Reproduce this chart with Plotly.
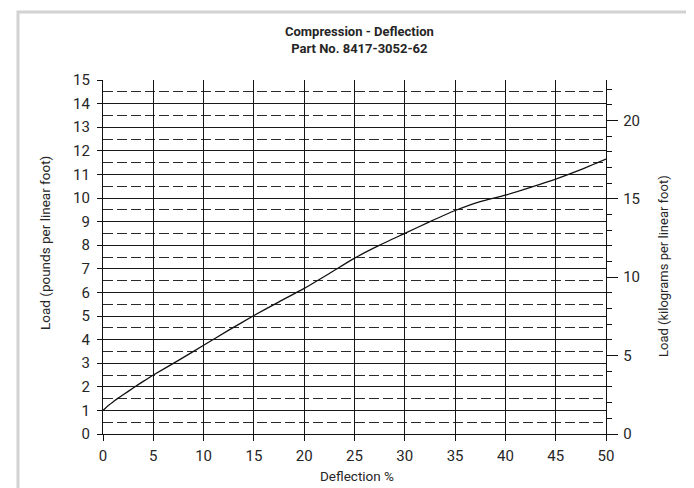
import plotly.graph_objects as go

deflection = [0, 0.5, 1, 1.5, 2, 3, 4, 5, 7.5, 10, 12.5, 15, 17.5, 20, 22.5, 25, 27.5, 30,
              32.5, 35, 37.5, 40, 42.5, 45, 47.5, 50]
load_lb = [1.0, 1.2, 1.36, 1.52, 1.66, 1.95, 2.23, 2.5, 3.12, 3.76, 4.4, 5.02, 5.6, 6.17, 6.8,
           7.45, 8.0, 8.5, 9.0, 9.47, 9.85, 10.12, 10.45, 10.8, 11.2, 11.65]
KG_PER_LB = 1.505
title_lines = ["Compression - Deflection", "Part No. 8417-3052-62"]
x_title = "Deflection %"
y_title = "Load (pounds per linear foot)"
y2_title = "Load (kilograms per linear foot)"

FONT = "Roboto, DejaVu Sans, sans-serif"
TXT = "#262626"
W, H = 694, 488
ML, MR, MT, MB = 95, 96, 72, 62
pw, ph = W - ML - MR, H - MT - MB


def px_x(px):
    return (px - ML) / pw


def px_y(py):
    return (H - MB - py) / ph


fig = go.Figure()
fig.add_trace(go.Scatter(x=deflection, y=load_lb, mode="lines",
                         line=dict(color="#111", width=1.3, shape="spline", smoothing=0.5),
                         showlegend=False))
fig.add_trace(go.Scatter(x=[0], y=[0], yaxis="y2", mode="markers",
                         marker=dict(opacity=0), showlegend=False, hoverinfo="skip"))

tickfont = dict(size=15, family=FONT, color=TXT)

fig.update_layout(
    width=W, height=H,
    margin=dict(l=ML, r=MR, t=MT, b=MB),
    paper_bgcolor="white", plot_bgcolor="white",
    font=dict(family=FONT, color=TXT, size=14),
    xaxis=dict(range=[0, 50], dtick=5, tick0=0, showgrid=True, gridcolor="#151515", gridwidth=1.3,
               zeroline=False, showline=True, linecolor="#111", linewidth=1.3,
               ticks="outside", ticklen=6, tickcolor="#111", tickfont=tickfont,
               ticklabelstandoff=2),
    yaxis=dict(range=[0, 15], dtick=1, tick0=0, showgrid=True, gridcolor="#1a1a1a", gridwidth=1.3,
               zeroline=False, showline=True, linecolor="#111", linewidth=1.3,
               ticks="outside", ticklen=5, tickcolor="#111", tickfont=tickfont,
               ticklabelstandoff=4,
               minor=dict(dtick=0.5, tick0=0, showgrid=True, gridcolor="#2a2a2a", gridwidth=1.2,
                          griddash="10px,4px", ticks="")),
    yaxis2=dict(range=[0, 15 * KG_PER_LB], overlaying="y", side="right", dtick=5, tick0=0,
                showgrid=False, zeroline=False, showline=True, linecolor="#111", linewidth=1.3,
                ticks="outside", ticklen=11, tickcolor="#111", tickfont=tickfont,
                ticklabelstandoff=2,
                minor=dict(dtick=1, tick0=0, ticks="outside", ticklen=5, tickcolor="#111",
                           showgrid=False)),
    shapes=[dict(type="rect", xref="paper", yref="paper",
                 x0=px_x(10), x1=px_x(688), y0=px_y(500), y1=px_y(4),
                 line=dict(color="#d2d2d2", width=3), fillcolor="rgba(0,0,0,0)", layer="below")],
    annotations=[
        dict(text="<b>" + title_lines[0] + "</b><br><b>" + title_lines[1] + "</b>",
             xref="paper", yref="paper", x=px_x(351), y=px_y(32), xanchor="center",
             yanchor="middle", showarrow=False,
             font=dict(size=13, family=FONT, color=TXT)),
        dict(text=x_title, xref="paper", yref="paper", x=px_x(349), y=px_y(468),
             xanchor="center", yanchor="middle", showarrow=False,
             font=dict(size=13.5, family=FONT, color=TXT)),
        dict(text=y_title, xref="paper", yref="paper", x=px_x(37), y=px_y(235),
             xanchor="center", yanchor="middle", showarrow=False, textangle=-90,
             font=dict(size=13.5, family=FONT, color=TXT)),
        dict(text=y2_title, xref="paper", yref="paper", x=px_x(655), y=px_y(258),
             xanchor="center", yanchor="middle", showarrow=False, textangle=-90,
             font=dict(size=13, family=FONT, color=TXT)),
    ],
)

fig.write_html("out.html")
